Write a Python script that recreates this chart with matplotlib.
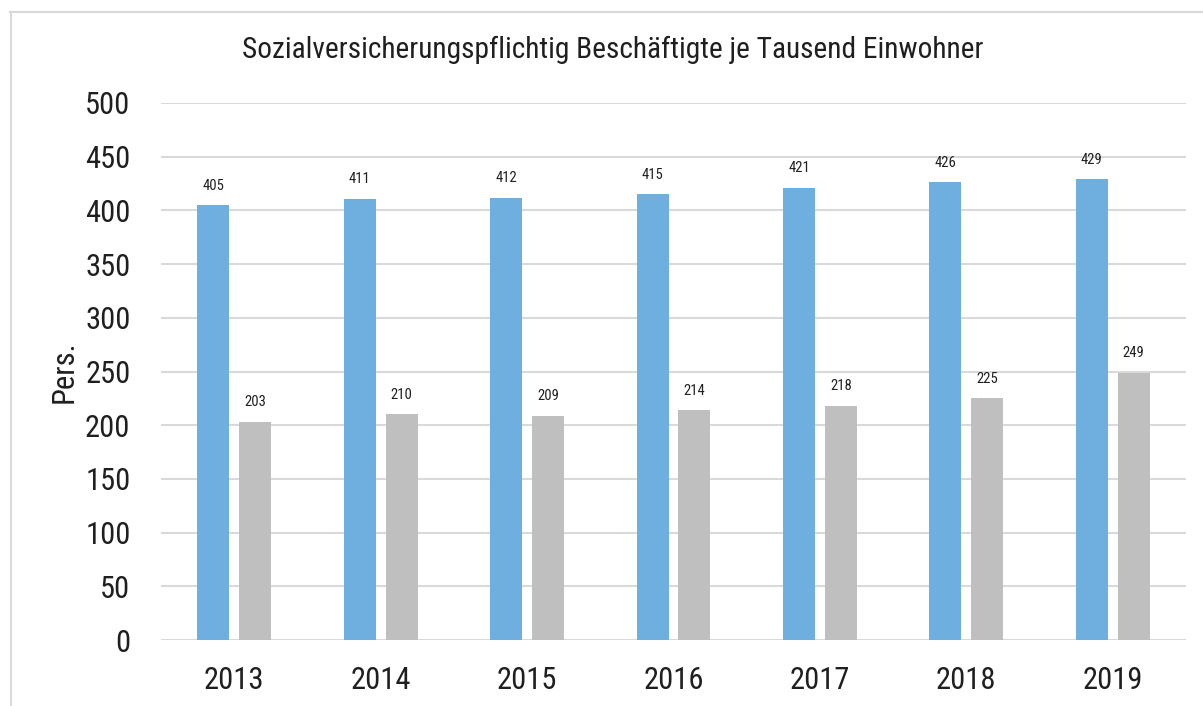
import matplotlib
matplotlib.use("Agg")
import matplotlib.pyplot as plt
from matplotlib import font_manager
import numpy as np

years = ["2013", "2014", "2015", "2016", "2017", "2018", "2019"]
series_a = [405, 411, 412, 415, 421, 426, 429]
series_b = [203, 210, 209, 214, 218, 225, 249]
yticks = [0, 50, 100, 150, 200, 250, 300, 350, 400, 450, 500]
title = "Sozialversicherungspflichtig Beschäftigte je Tausend Einwohner"
ylabel = "Pers."

names = {f.name for f in font_manager.fontManager.ttflist}
fam = "Liberation Sans"
for cand in ["Roboto Condensed", "Archivo Narrow", "PT Sans Narrow"]:
    if cand in names:
        fam = cand
        break
plt.rcParams['font.family'] = [fam, 'DejaVu Sans']

blue = "#6FAFE0"
gray = "#BFBFBF"
grid = "#D9D9D9"
tc = "#1F1F1F"

fig = plt.figure(figsize=(12.03, 7.06), dpi=100)
W, H = 1203, 706
ax = fig.add_axes([161 / W, 1 - 640 / H, (1186 - 161) / W, (640 - 103) / H])

x = np.arange(len(years))
bw = 0.218
off = 0.143
ba = ax.bar(x - off, series_a, bw, color=blue, zorder=3)
bb = ax.bar(x + off, series_b, bw, color=gray, zorder=3)
for rect, v in zip(list(ba) + list(bb), series_a + series_b):
    ax.annotate(str(v), (rect.get_x() + rect.get_width() / 2, v), xytext=(0, 9),
                textcoords="offset points", ha="center", va="bottom", fontsize=10.5, color=tc)

ax.set_xlim(-0.5, len(years) - 0.5)
ax.set_ylim(0, 500)
ax.set_yticks(yticks)
ax.set_xticks(x)
ax.set_xticklabels(years)
ax.tick_params(axis="both", length=0, labelsize=22, colors=tc)
ax.tick_params(axis="y", pad=22)
ax.tick_params(axis="x", pad=19)
ax.yaxis.grid(True, color=grid, linewidth=1.5, zorder=0)
for s in ax.spines.values():
    s.set_visible(False)
ax.set_ylabel(ylabel, fontsize=22, color=tc, labelpad=5)
fig.text(613 / W, 1 - 50 / H, title, ha="center", va="center", fontsize=21.2, color=tc)

# frame (top and left edges visible)
fig.add_artist(plt.Line2D([10 / W, 1], [1 - 12 / H, 1 - 12 / H], color=grid, linewidth=1.5))
fig.add_artist(plt.Line2D([11 / W, 11 / W], [0, 1 - 12 / H], color=grid, linewidth=1.5))

fig.savefig("out.png", dpi=100)
